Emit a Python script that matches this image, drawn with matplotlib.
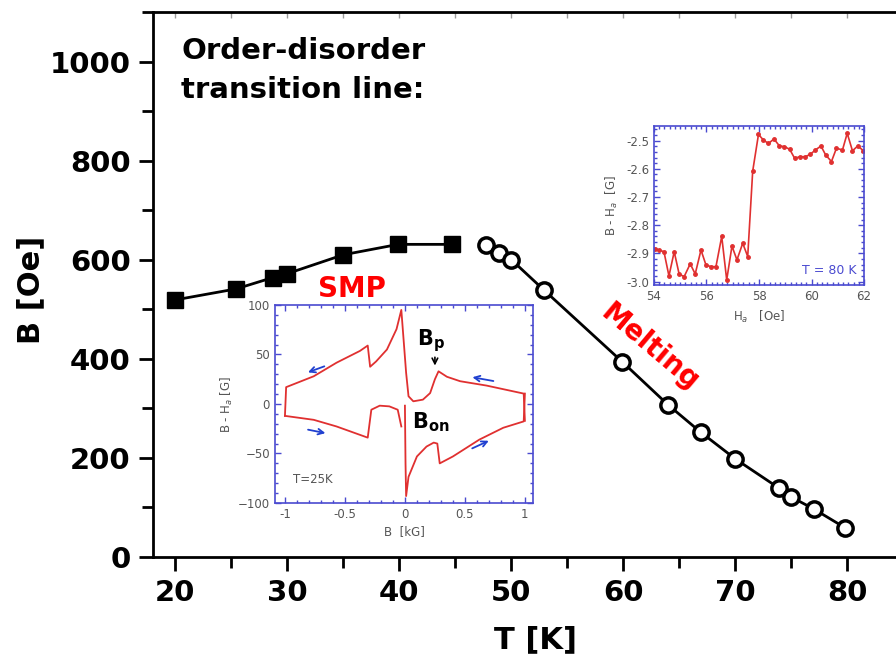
import numpy as np
import matplotlib
matplotlib.use("Agg")
import matplotlib.pyplot as plt
from matplotlib.ticker import MultipleLocator

plt.rcParams['font.family'] = ['DejaVu Sans']

# ---- main data ----
T_smp = [20.0, 25.4, 28.7, 30.0, 35.0, 39.9, 44.7]
B_smp = [519, 541, 564, 572, 610, 631, 631]
T_melt = [47.7, 48.9, 50.0, 52.9, 59.9, 64.0, 66.9, 70.0, 73.9, 75.0, 77.0, 79.8]
B_melt = [630, 614, 600, 539, 394, 307, 252, 198, 139, 121, 97, 59]
x_ticks = [20, 30, 40, 50, 60, 70, 80]
y_ticks = [0, 200, 400, 600, 800, 1000]

# ---- inset 1: hysteresis loop at 25 K ----
loop_up_B = [1.0, 0.99, 0.68, 0.46, 0.35, 0.28, 0.25, 0.21, 0.15, 0.07, 0.03, 0.01, -0.03,
             -0.07, -0.15, -0.24, -0.29, -0.31, -0.375, -0.57, -0.76, -0.99, -1.0]
loop_up_M = [-17, 10.5, 18.6, 23, 27.5, 33, 25, 11, 4.4, 2.7, 7.8, 31.5, 95,
             75.6, 55, 43, 37.6, 59, 53.6, 41.7, 28, 17, -12]
loop_dn_B = [-1.0, -0.76, -0.57, -0.31, -0.28, -0.21, -0.13, -0.06, -0.03]
loop_dn_M = [-12, -16, -22.7, -34, -5.8, -1.7, -2.4, -5.8, -22.7]
loop_dn2_B = [0.0, 0.005, 0.01, 0.03, 0.1, 0.18, 0.24, 0.27, 0.29, 0.4, 0.62, 0.82, 0.99, 1.0]
loop_dn2_M = [-1.7, -60, -93, -73.6, -53, -43, -39, -40, -60, -53, -36, -24, -17.6, 10.5]

# ---- inset 2: step at 80 K ----
Ha = [54.03, 54.19, 54.38, 54.57, 54.77, 54.96, 55.15, 55.38, 55.57, 55.79, 55.98, 56.17,
      56.36, 56.58, 56.77, 56.97, 57.16, 57.38, 57.57, 57.76, 57.98, 58.17, 58.36, 58.57,
      58.78, 58.97, 59.17, 59.36, 59.55, 59.77, 59.96, 60.15, 60.36, 60.54, 60.76, 60.95,
      61.18, 61.36, 61.56, 61.76, 61.97]
BmH = [-2.885, -2.888, -2.894, -2.980, -2.894, -2.974, -2.982, -2.937, -2.973, -2.888,
       -2.941, -2.947, -2.947, -2.840, -2.994, -2.874, -2.923, -2.864, -2.911, -2.608,
       -2.478, -2.498, -2.510, -2.494, -2.519, -2.521, -2.531, -2.563, -2.557, -2.557,
       -2.548, -2.533, -2.519, -2.551, -2.574, -2.527, -2.533, -2.474, -2.536, -2.519,
       -2.535]

fig = plt.figure(figsize=(8.96, 6.62), dpi=100)
ax = fig.add_axes([0.1708, 0.1586, 0.8292, 0.8233])
ax.plot(T_smp, B_smp, '-', color='black', lw=2, marker='s', ms=11,
        mfc='black', mec='black')
ax.plot(T_melt, B_melt, '-', color='black', lw=2, marker='o', ms=11,
        mfc='white', mec='black', mew=2.5)
ax.set_xlim(18, 84.35)
ax.set_ylim(0, 1100)
ax.spines['right'].set_visible(False)
for s in ['left', 'bottom', 'top']:
    ax.spines[s].set_linewidth(2)
ax.set_xticks(x_ticks)
ax.set_yticks(y_ticks)
ax.xaxis.set_minor_locator(MultipleLocator(5))
ax.yaxis.set_minor_locator(MultipleLocator(100))
ax.tick_params(axis='both', which='major', direction='out', length=10, width=2,
               labelsize=21, pad=6)
ax.tick_params(axis='both', which='minor', direction='out', length=8, width=2)
for lab in ax.get_xticklabels() + ax.get_yticklabels():
    lab.set_fontweight('bold')
# small inward ticks along the top edge
ax_top = ax.secondary_xaxis('top')
ax_top.set_xticks(np.arange(20, 85, 5))
ax_top.tick_params(direction='in', length=4, width=1, color='#999999', labeltop=False)
ax_top.spines['top'].set_visible(False)

ax.set_xlabel('T [K]', fontsize=22, fontweight='bold')
ax.xaxis.set_label_coords(0.515, -0.125)
ax.set_ylabel('B [Oe]', fontsize=22, fontweight='bold')
ax.yaxis.set_label_coords(-0.145, 0.49)

ax.text(0.038, 0.955, 'Order-disorder\ntransition line:', transform=ax.transAxes,
        fontsize=21, fontweight='bold', va='top', ha='left', linespacing=1.5)
ax.text(35.8, 540, 'SMP', color='red', fontsize=20,
        fontweight='bold', ha='center', va='center')
ax.text(62.4, 424, 'Melting', color='red', fontsize=20,
        fontweight='bold', ha='center', va='center', rotation=-40)

inset_blue = '#4a4ad0'
gray = '#555555'

# inset 1
a1 = fig.add_axes([0.3069, 0.2402, 0.2879, 0.2991])
a1.plot(loop_up_B, loop_up_M, color='#e03030', lw=1.3)
a1.plot(loop_dn_B, loop_dn_M, color='#e03030', lw=1.3)
a1.plot(loop_dn2_B, loop_dn2_M, color='#e03030', lw=1.3)
a1.set_xlim(-1.083, 1.067)
a1.set_ylim(-100, 100)
a1.set_xticks([-1, -0.5, 0, 0.5, 1])
a1.set_xticklabels(['-1', '-0.5', '0', '0.5', '1'])
a1.set_yticks([-100, -50, 0, 50, 100])
a1.xaxis.set_minor_locator(MultipleLocator(0.1))
a1.yaxis.set_minor_locator(MultipleLocator(10))
for s in a1.spines.values():
    s.set_color(inset_blue)
    s.set_linewidth(1.2)
a1.tick_params(which='both', direction='in', color=inset_blue, top=True, right=True,
               labelcolor=gray, labelsize=8.5, width=1)
a1.tick_params(which='major', length=4)
a1.tick_params(which='minor', length=2.5)
a1.set_xlabel('B  [kG]', fontsize=8.5, color=gray, labelpad=3)
a1.set_ylabel('B - H$_a$ [G]', fontsize=8.5, color=gray, labelpad=2)
arr = dict(arrowstyle='->', color='#2040d0', lw=1.3)
a1.annotate('', xy=(-0.83, 31), xytext=(-0.65, 39), arrowprops=arr)
a1.annotate('', xy=(-0.64, -30), xytext=(-0.83, -25.4), arrowprops=arr)
a1.annotate('', xy=(0.54, 27.5), xytext=(0.76, 22.7), arrowprops=arr)
a1.annotate('', xy=(0.72, -36), xytext=(0.54, -46), arrowprops=arr)
a1.annotate('', xy=(0.25, 36), xytext=(0.25, 50),
            arrowprops=dict(arrowstyle='->', color='black', lw=1.2))
a1.text(0.1, 50, 'B$_\\mathbf{p}$', fontsize=15, fontweight='bold', ha='left', va='bottom')
a1.text(0.06, -18, 'B$_\\mathbf{on}$', fontsize=15, fontweight='bold', ha='left', va='center')
a1.text(-0.93, -76, 'T=25K', fontsize=8.5, color=gray, ha='left', va='center')

# inset 2
a2 = fig.add_axes([0.7299, 0.5695, 0.2344, 0.2402])
a2.plot(Ha, BmH, color='#e03030', lw=1.2, marker='o', ms=2.5)
a2.set_xlim(54, 62)
a2.set_ylim(-3.012, -2.448)
a2.set_xticks([54, 56, 58, 60, 62])
a2.set_yticks([-3.0, -2.9, -2.8, -2.7, -2.6, -2.5])
a2.set_yticklabels(['-3.0', '-2.9', '-2.8', '-2.7', '-2.6', '-2.5'])
a2.xaxis.set_minor_locator(MultipleLocator(0.2))
a2.yaxis.set_minor_locator(MultipleLocator(0.02))
for s in a2.spines.values():
    s.set_color(inset_blue)
    s.set_linewidth(1.2)
a2.tick_params(which='both', direction='in', color=inset_blue, top=True, right=True,
               labelcolor=gray, labelsize=8.5, width=1)
a2.tick_params(which='major', length=4)
a2.tick_params(which='minor', length=2)
a2.set_xlabel('H$_a$   [Oe]', fontsize=8.5, color=gray, labelpad=4)
a2.set_ylabel('B - H$_a$  [G]', fontsize=8.5, color=gray, labelpad=4)
a2.text(61.7, -2.96, 'T = 80 K', fontsize=9, color=inset_blue, ha='right', va='center')

fig.savefig('out.png', dpi=100)
